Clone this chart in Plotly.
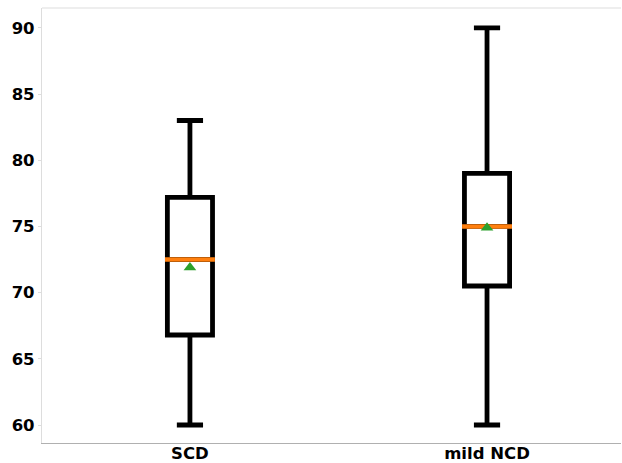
import plotly.graph_objects as go

# Summary statistics per group
groups = ["SCD", "mild NCD"]
positions = [0, 1]
lower_whisker = [60, 60]
q1 = [66.8, 70.5]
median = [72.5, 75.0]
q3 = [77.2, 79.0]
upper_whisker = [83, 90]
means = [71.9, 74.9]

y_ticks = [60, 65, 70, 75, 80, 85, 90]

box_w = 0.152
tick_font = dict(family="DejaVu Sans", size=16.5, color="black", weight="bold")

fig = go.Figure()

fig.add_trace(go.Box(
    x=positions,
    q1=q1,
    median=median,
    q3=q3,
    lowerfence=lower_whisker,
    upperfence=upper_whisker,
    width=box_w,
    whiskerwidth=0.58,
    fillcolor="white",
    line=dict(color="black", width=4.8),
    boxpoints=False,
    hoverinfo="skip",
    showlegend=False,
))

# Orange median bars over each box
for xp, m in zip(positions, median):
    half = box_w / 2 + 0.008
    fig.add_trace(go.Scatter(
        x=[xp - half, xp + half],
        y=[m, m],
        mode="lines",
        line=dict(color="#ff7f0e", width=4.5),
        showlegend=False,
        hoverinfo="skip",
    ))

# Green triangles marking the means
fig.add_trace(go.Scatter(
    x=positions,
    y=means,
    mode="markers",
    marker=dict(symbol="triangle-up", color="#2ca02c", size=11),
    showlegend=False,
    hoverinfo="skip",
))

fig.update_layout(
    width=622,
    height=463,
    margin=dict(l=42, r=1, t=8, b=20),
    plot_bgcolor="white",
    paper_bgcolor="white",
    showlegend=False,
    shapes=[dict(type="line", xref="paper", yref="paper",
                 x0=0, x1=1, y0=1, y1=1,
                 line=dict(color="#dddddd", width=1.2))],
)

fig.update_xaxes(
    range=[-0.498, 1.451],
    tickmode="array",
    tickvals=positions,
    ticktext=groups,
    tickfont=tick_font,
    automargin=False,
    showgrid=False,
    zeroline=False,
    showline=True,
    linecolor="#b0b0b0",
    linewidth=1.2,
    ticks="",
    ticklabelstandoff=-5,
)

fig.update_yaxes(
    range=[58.64, 91.5],
    tickmode="array",
    tickvals=y_ticks,
    tickfont=tick_font,
    automargin=False,
    showgrid=False,
    zeroline=False,
    showline=True,
    linecolor="#dddddd",
    linewidth=1.2,
    ticks="outside",
    ticklen=3,
    tickcolor="#dddddd",
)

fig.write_html("out.html")
